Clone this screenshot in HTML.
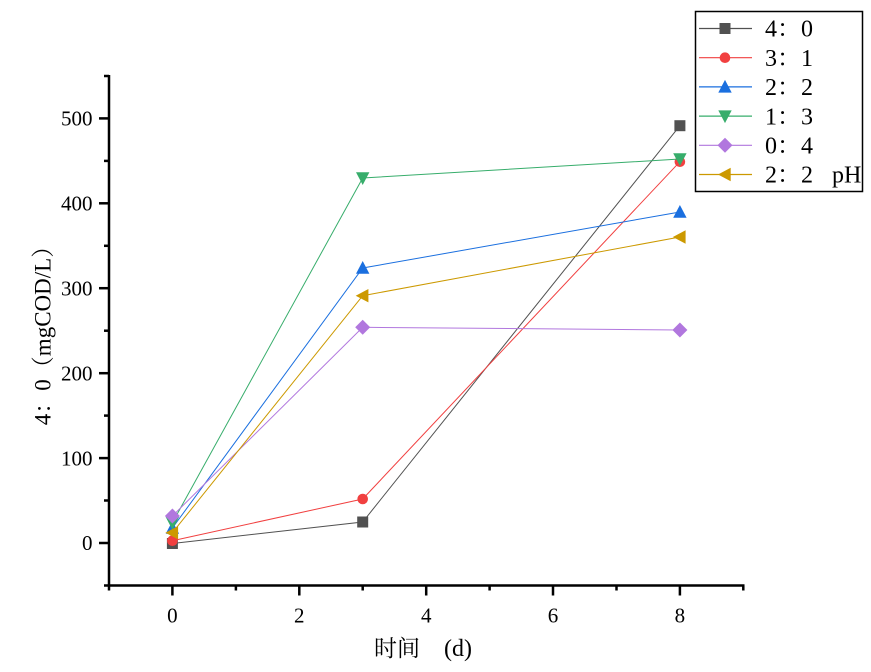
<!DOCTYPE html>
<html><head><meta charset="utf-8"><style>
html,body{margin:0;padding:0;background:#fff;}
svg{display:block;}
text{font-family:"Liberation Serif","Noto Serif CJK SC",serif;fill:#000;}
</style></head><body>
<svg width="871" height="672" viewBox="0 0 871 672" xmlns="http://www.w3.org/2000/svg">
<rect width="871" height="672" fill="#fff"/>
<!-- axes -->
<g stroke="#000" stroke-width="2.5" fill="none">
<line x1="109" y1="75" x2="109" y2="586.2"/>
<line x1="107.8" y1="585.5" x2="744.5" y2="585.5"/>
<line x1="99" y1="543" x2="109" y2="543"/>
<line x1="99" y1="458.1" x2="109" y2="458.1"/>
<line x1="99" y1="373.2" x2="109" y2="373.2"/>
<line x1="99" y1="288.2" x2="109" y2="288.2"/>
<line x1="99" y1="203.3" x2="109" y2="203.3"/>
<line x1="99" y1="118.4" x2="109" y2="118.4"/>
<line x1="104" y1="585.5" x2="109" y2="585.5"/>
<line x1="104" y1="500.5" x2="109" y2="500.5"/>
<line x1="104" y1="415.6" x2="109" y2="415.6"/>
<line x1="104" y1="330.7" x2="109" y2="330.7"/>
<line x1="104" y1="245.8" x2="109" y2="245.8"/>
<line x1="104" y1="160.9" x2="109" y2="160.9"/>
<line x1="104" y1="76" x2="109" y2="76"/>
<line x1="172.4" y1="585.5" x2="172.4" y2="595.5"/>
<line x1="299.3" y1="585.5" x2="299.3" y2="595.5"/>
<line x1="426.2" y1="585.5" x2="426.2" y2="595.5"/>
<line x1="553" y1="585.5" x2="553" y2="595.5"/>
<line x1="679.9" y1="585.5" x2="679.9" y2="595.5"/>
<line x1="109" y1="585.5" x2="109" y2="590.5"/>
<line x1="235.9" y1="585.5" x2="235.9" y2="590.5"/>
<line x1="362.7" y1="585.5" x2="362.7" y2="590.5"/>
<line x1="489.6" y1="585.5" x2="489.6" y2="590.5"/>
<line x1="616.5" y1="585.5" x2="616.5" y2="590.5"/>
<line x1="743.3" y1="585.5" x2="743.3" y2="590.5"/>
</g>
<!-- y tick labels -->
<text x="92.5" y="550.2" font-size="21" text-anchor="end">0</text>
<text x="92.5" y="465.3" font-size="21" text-anchor="end">100</text>
<text x="92.5" y="380.4" font-size="21" text-anchor="end">200</text>
<text x="92.5" y="295.4" font-size="21" text-anchor="end">300</text>
<text x="92.5" y="210.5" font-size="21" text-anchor="end">400</text>
<text x="92.5" y="125.6" font-size="21" text-anchor="end">500</text>
<!-- x tick labels -->
<text x="172.4" y="622.7" font-size="21" text-anchor="middle">0</text>
<text x="299.3" y="622.7" font-size="21" text-anchor="middle">2</text>
<text x="426.2" y="622.7" font-size="21" text-anchor="middle">4</text>
<text x="553" y="622.7" font-size="21" text-anchor="middle">6</text>
<text x="679.9" y="622.7" font-size="21" text-anchor="middle">8</text>
<!-- axis titles -->
<text x="374" y="656" font-size="23" style="font-family:'Noto Serif CJK SC','Liberation Serif',serif;">时间</text>
<text x="444" y="656" font-size="24">(d)</text>
<text transform="translate(50.5,330) rotate(-90)" text-anchor="middle" font-size="23">4：0（mgCOD/L）</text>

<!-- series: 4:0 -->
<g stroke="#515151" fill="#515151">
<polyline points="172.4,543.5 362.7,522 679.9,125.7" fill="none" stroke-width="1"/>
<rect x="166.9" y="538" width="11" height="11" stroke="none"/>
<rect x="357.2" y="516.5" width="11" height="11" stroke="none"/>
<rect x="674.4" y="120.2" width="11" height="11" stroke="none"/>
</g>
<!-- 3:1 -->
<g stroke="#F14040" fill="#F14040">
<polyline points="172.4,540.7 362.7,499 679.9,161.7" fill="none" stroke-width="1"/>
<circle cx="172.4" cy="540.7" r="5.3" stroke="none"/>
<circle cx="362.7" cy="499" r="5.3" stroke="none"/>
<circle cx="679.9" cy="161.7" r="5.3" stroke="none"/>
</g>
<!-- 2:2 -->
<g stroke="#1A6FDF" fill="#1A6FDF">
<polyline points="172.4,528 362.7,268 679.9,212" fill="none" stroke-width="1"/>
<polygon points="172.4,521 165.7,533.7 179.1,533.7" stroke="none"/>
<polygon points="362.7,261 356,273.7 369.4,273.7" stroke="none"/>
<polygon points="679.9,205 673.2,217.7 686.6,217.7" stroke="none"/>
</g>
<!-- 1:3 -->
<g stroke="#37AD6B" fill="#37AD6B">
<polyline points="172.4,522.7 362.7,178 679.9,159" fill="none" stroke-width="1"/>
<polygon points="165.7,517 179.1,517 172.4,529.7" stroke="none"/>
<polygon points="356,172.3 369.4,172.3 362.7,185" stroke="none"/>
<polygon points="673.2,153.3 686.6,153.3 679.9,166" stroke="none"/>
</g>
<!-- 0:4 -->
<g stroke="#B177DE" fill="#B177DE">
<polyline points="172.4,516 362.7,327.3 679.9,330" fill="none" stroke-width="1"/>
<polygon points="172.4,508.5 179.9,516 172.4,523.5 164.9,516" stroke="none"/>
<polygon points="362.7,319.8 370.2,327.3 362.7,334.8 355.2,327.3" stroke="none"/>
<polygon points="679.9,322.5 687.4,330 679.9,337.5 672.4,330" stroke="none"/>
</g>
<!-- 2:2 pH -->
<g stroke="#CC9900" fill="#CC9900">
<polyline points="172.4,532.7 362.7,295.7 679.9,237" fill="none" stroke-width="1"/>
<polygon points="165.4,532.7 178.1,526 178.1,539.4" stroke="none"/>
<polygon points="355.7,295.7 368.4,289 368.4,302.4" stroke="none"/>
<polygon points="672.9,237 685.6,230.3 685.6,243.7" stroke="none"/>
</g>

<!-- legend -->
<rect x="695.5" y="11.5" width="167" height="180" fill="#fff" stroke="#000" stroke-width="1.5"/>
<g stroke-width="1.2">
<line x1="699" y1="28.5" x2="752" y2="28.5" stroke="#515151"/>
<rect x="719.5" y="23" width="11" height="11" fill="#515151"/>
<line x1="699" y1="57.7" x2="752" y2="57.7" stroke="#F14040"/>
<circle cx="725" cy="57.7" r="5.3" fill="#F14040"/>
<line x1="699" y1="86.9" x2="752" y2="86.9" stroke="#1A6FDF"/>
<polygon points="725,79.9 718.3,92.6 731.7,92.6" fill="#1A6FDF"/>
<line x1="699" y1="116.1" x2="752" y2="116.1" stroke="#37AD6B"/>
<polygon points="718.3,110.4 731.7,110.4 725,123.1" fill="#37AD6B"/>
<line x1="699" y1="145.3" x2="752" y2="145.3" stroke="#B177DE"/>
<polygon points="725,137.8 732.5,145.3 725,152.8 717.5,145.3" fill="#B177DE"/>
<line x1="699" y1="174.5" x2="752" y2="174.5" stroke="#CC9900"/>
<polygon points="718,174.5 730.7,167.8 730.7,181.2" fill="#CC9900"/>
</g>
<g font-size="24">
<text x="765" y="36.7">4：0</text>
<text x="765" y="65.9">3：1</text>
<text x="765" y="95.1">2：2</text>
<text x="765" y="124.3">1：3</text>
<text x="765" y="153.5">0：4</text>
<text x="765" y="182.7">2：2</text>
<text x="832" y="182.7">pH</text>
</g>
</svg>
</body></html>
